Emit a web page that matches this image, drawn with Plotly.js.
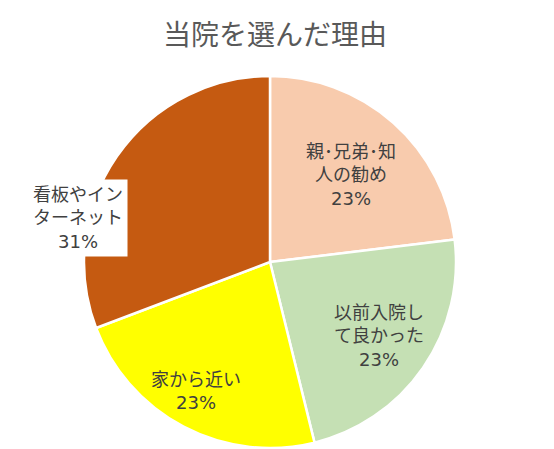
<!DOCTYPE html>
<html>
<head>
<meta charset="utf-8">
<script src="https://cdn.plot.ly/plotly-3.0.1.min.js"></script>
<style>html,body{margin:0;padding:0;background:#fff;}#chart{width:554px;height:449px;}</style>
</head>
<body>
<div id="chart"></div>
<script>
// Data
const categories = ["親･兄弟･知人の勧め", "以前入院して良かった", "家から近い", "看板やインターネット"];
const labelLines = [["親･兄弟･知", "人の勧め"], ["以前入院し", "て良かった"], ["家から近い"], ["看板やイン", "ターネット"]];
const counts = [3, 3, 3, 4];
const colors = ["#F8CBAD", "#C5E0B4", "#FFFF00", "#C55A11"];
const titleText = "当院を選んだ理由";

// Layout helpers (positions, not data)
const W = 554, H = 449;
const cx = 270, cy = 262, R = 186;
const labelPlace = [[0.64, 43], [0.71, 124], [0.80, 210], [1.06, 283]]; // [radius fraction, angle deg from top clockwise]
const labelBg = [null, null, null, "#FFFFFF"];
const labelFont = "DejaVu Sans, Noto Sans CJK JP, sans-serif";

const total = counts.reduce((a, b) => a + b, 0);
const annotations = counts.map((v, i) => {
  const pct = Math.round(v / total * 100) + "%";
  const [rf, ang] = labelPlace[i];
  const a = ang * Math.PI / 180;
  const px = cx + rf * R * Math.sin(a);
  const py = cy - rf * R * Math.cos(a);
  const ann = {
    xref: "paper", yref: "paper",
    x: px / W, y: 1 - py / H,
    xanchor: "center", yanchor: "middle",
    text: labelLines[i].concat([pct]).join("<br>"),
    showarrow: false,
    align: "center",
    font: {family: labelFont, size: 18, color: "#404040"}
  };
  if (labelBg[i]) { ann.bgcolor = labelBg[i]; ann.borderpad = 4; }
  return ann;
});

const trace = {
  type: "pie",
  labels: categories,
  values: counts,
  sort: false,
  direction: "clockwise",
  rotation: 0,
  marker: {colors: colors, line: {color: "#FFFFFF", width: 2.5}},
  textinfo: "none",
  hoverinfo: "label+percent",
  showlegend: false,
  domain: {x: [(cx - R) / W, (cx + R) / W], y: [1 - (cy + R) / H, 1 - (cy - R) / H]}
};

const layout = {
  width: W, height: H,
  margin: {l: 0, r: 0, t: 0, b: 0},
  paper_bgcolor: "#FFFFFF",
  title: {
    text: titleText,
    x: 275 / W, xanchor: "center",
    y: 1 - 35 / H, yanchor: "middle",
    font: {family: "Noto Sans CJK JP, sans-serif", size: 28, color: "#595959"}
  },
  annotations: annotations,
  showlegend: false
};

Plotly.newPlot("chart", [trace], layout, {displayModeBar: false, staticPlot: true});
</script>
</body>
</html>
